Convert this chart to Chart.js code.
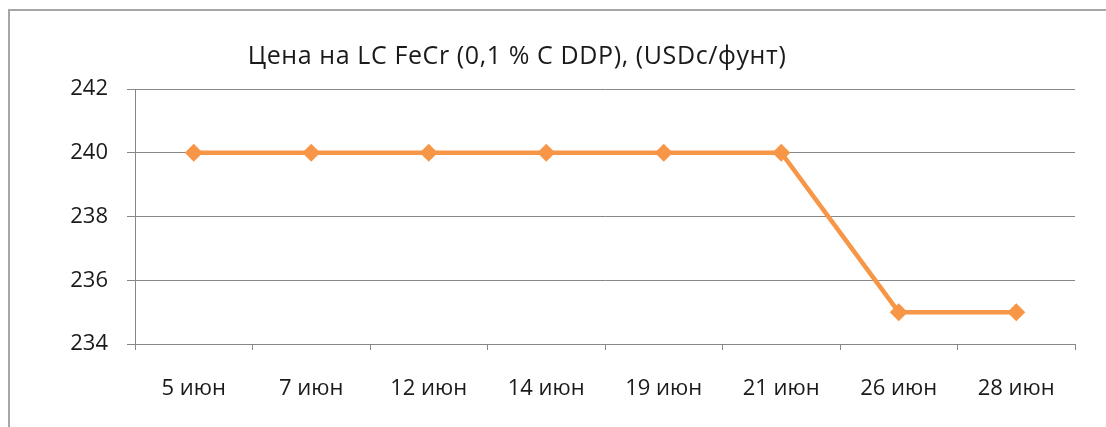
<!DOCTYPE html>
<html>
<head>
<meta charset="utf-8">
<script src="https://cdn.jsdelivr.net/npm/chart.js@4"></script>
<style>
  html, body { margin: 0; padding: 0; background: #fff; overflow: hidden; }
  #frame {
    position: absolute; left: 8px; top: 9px; width: 1200px; height: 500px;
    border: 2px solid #a6a6a6; box-sizing: border-box;
  }
  #wrap { position: absolute; left: 0; top: 0; width: 1106px; height: 427px; }
</style>
</head>
<body>
<div id="frame"></div>
<div id="wrap"><canvas id="chart"></canvas></div>
<script>
// данные графика
var dates = ["5 июн", "7 июн", "12 июн", "14 июн", "19 июн", "21 июн", "26 июн", "28 июн"];
var prices = [240, 240, 240, 240, 240, 240, 235, 235];
var yTicks = [234, 236, 238, 240, 242];
var chartTitle = "Цена на LC FeCr (0,1 % C DDP), (USDc/фунт)";

var fontName = "'Open Sans', Lato, sans-serif";
var textColor = "#1a1a1a";
var gridColor = "#878787";

// заголовок рисуем сами, чтобы поставить его левее центра
var titlePlugin = {
    id: "leftTitle",
    afterDraw: function (chart) {
        var ctx = chart.ctx;
        ctx.save();
        ctx.font = "500 25px " + fontName;
        ctx.letterSpacing = "0.6px";
        ctx.fillStyle = textColor;
        ctx.textAlign = "center";
        ctx.textBaseline = "middle";
        ctx.fillText(chartTitle, 517, 57);
        ctx.restore();
    }
};

var ctx = document.getElementById("chart");
var myChart = new Chart(ctx, {
    type: "line",
    data: {
        labels: dates,
        datasets: [
            {
                label: chartTitle,
                data: prices,
                borderColor: "#f79646",
                backgroundColor: "#f79646",
                borderWidth: 4.5,
                pointStyle: "rectRot",
                pointRadius: 9,
                pointHoverRadius: 9,
                pointBorderWidth: 0,
                tension: 0
            }
        ]
    },
    options: {
        responsive: true,
        maintainAspectRatio: false,
        animation: false,
        layout: { padding: { top: 89, left: 20, right: 31, bottom: 20 } },
        plugins: {
            legend: { display: false },
            title: { display: false },
            tooltip: { enabled: false }
        },
        scales: {
            x: {
                offset: true,
                grid: {
                    offset: true,
                    drawOnChartArea: false,
                    drawTicks: true,
                    tickLength: 6,
                    color: gridColor
                },
                border: { color: gridColor, width: 1 },
                ticks: {
                    color: textColor,
                    font: { family: fontName, size: 22, weight: 500 },
                    padding: 26,
                    maxRotation: 0
                },
                afterFit: function (scale) { scale.height = 63; }
            },
            y: {
                min: 234,
                max: 242,
                afterBuildTicks: function (scale) {
                    scale.ticks = yTicks.map(function (v) { return { value: v }; });
                },
                grid: {
                    color: gridColor,
                    tickLength: 8
                },
                border: { color: gridColor, width: 1 },
                ticks: {
                    color: textColor,
                    font: { family: fontName, size: 22, weight: 500 },
                    padding: 19
                },
                afterFit: function (scale) { scale.width = 115; }
            }
        }
    },
    plugins: [titlePlugin]
});
</script>
</body>
</html>
